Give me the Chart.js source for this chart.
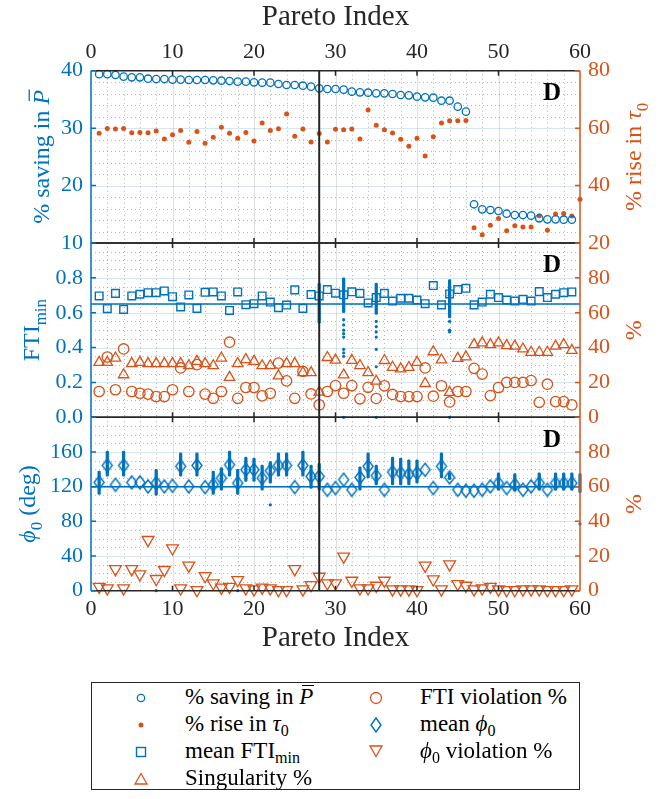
<!DOCTYPE html>
<html>
<head>
<meta charset="utf-8">
<title>Pareto front - design D</title>
<script src="https://cdn.jsdelivr.net/npm/chart.js@4.4.1/dist/chart.umd.min.js"></script>
<style>
  body { margin: 0; background: #fff; }
  #wrap { position: relative; width: 661px; height: 799px; overflow: hidden; font-family: 'Liberation Serif', 'DejaVu Serif', serif; }
  #wrap canvas { position: absolute; left: 0; top: 0; }
  #legend { position: absolute; left: 91px; top: 682px; width: 489px; height: 108px; border: 1.5px solid #262626; box-sizing: border-box; background: #fff; }
  .mk { position: absolute; }
  .lt { position: absolute; font-size: 23px; line-height: 26px; color: #000; white-space: nowrap; }
  .lt sub { font-size: 16px; line-height: 0; vertical-align: -5px; }
  .pbar { position: relative; font-style: italic; }
  .pbar::after { content: ''; position: absolute; left: 3px; right: -1px; top: 1px; border-top: 1.4px solid #000; }
</style>
</head>
<body>
<div id="wrap">
  <canvas id="p1" width="661" height="799"></canvas>
  <canvas id="p2" width="661" height="799"></canvas>
  <canvas id="p3" width="661" height="799"></canvas>
  <div id="legend">
    <svg class="mk" style="left:43px;top:9px" width="12" height="12"><circle cx="6" cy="6" r="3.7" fill="none" stroke="#0072BD" stroke-width="1.3"/></svg>
    <span class="lt" style="left:93px;top:1px">% saving in <span class="pbar">P</span></span>
    <svg class="mk" style="left:43px;top:36px" width="12" height="12"><circle cx="6" cy="6" r="2.5" fill="#D95319"/></svg>
    <span class="lt" style="left:93px;top:28px">% rise in <i>τ</i><sub>0</sub></span>
    <svg class="mk" style="left:42px;top:62px" width="14" height="14"><rect x="2.5" y="2.5" width="9" height="9" fill="none" stroke="#0072BD" stroke-width="1.4"/></svg>
    <span class="lt" style="left:93px;top:55px">mean FTI<sub>min</sub></span>
    <svg class="mk" style="left:41px;top:89px" width="16" height="14"><polygon points="8,1.5 14,12 2,12" fill="none" stroke="#D95319" stroke-width="1.3"/></svg>
    <span class="lt" style="left:93px;top:82px">Singularity %</span>

    <svg class="mk" style="left:276px;top:7px" width="16" height="16"><circle cx="8" cy="8" r="5.5" fill="none" stroke="#D95319" stroke-width="1.3"/></svg>
    <span class="lt" style="left:328px;top:1px">FTI violation %</span>
    <svg class="mk" style="left:277px;top:33px" width="14" height="18"><polygon points="7,2 12,9 7,16 2,9" fill="none" stroke="#0072BD" stroke-width="1.4"/></svg>
    <span class="lt" style="left:328px;top:28px">mean <i>ϕ</i><sub>0</sub></span>
    <svg class="mk" style="left:276px;top:61px" width="16" height="14"><polygon points="2,2 14,2 8,12.5" fill="none" stroke="#D95319" stroke-width="1.3"/></svg>
    <span class="lt" style="left:328px;top:55px"><i>ϕ</i><sub>0</sub> violation %</span>
  </div>
</div>
<script>
const BLUE = '#0072BD', ORANGE = '#D95319', DARK = '#262626';
const FONT = "'Liberation Serif', 'DejaVu Serif', serif";

// Pareto index of every design on the front
const paretoIdx = [1, 2, 3, 4, 5, 6, 7, 8, 9, 10, 11, 12, 13, 14, 15, 16, 17, 18, 19, 20,
  21, 22, 23, 24, 25, 26, 27, 28, 29, 30, 31, 32, 33, 34, 35, 36, 37, 38, 39, 40,
  41, 42, 43, 44, 45, 46, 47, 48, 49, 50, 51, 52, 53, 54, 55, 56, 57, 58, 59, 60];

// top panel
const savingP = [39.4, 39.4, 39.25, 38.96, 38.85, 38.85, 38.61, 38.55, 38.55, 38.44,
  38.44, 38.38, 38.38, 38.38, 38.32, 38.26, 38.2, 38.09, 38.09, 37.97,
  37.92, 37.92, 37.68, 37.51, 37.51, 37.39, 37.22, 36.93, 36.81, 36.81,
  36.7, 36.35, 36.23, 36.17, 36.06, 36.06, 35.94, 35.77, 35.71, 35.48,
  35.36, 35.3, 34.78, 34.78, 33.74, 32.87, 16.74, 15.86, 15.74, 15.57,
  15.1, 14.87, 14.87, 14.76, 14.3, 14.12, 14.12, 14.06, 14.06, null];
const riseTau = [58.2, 59.9, 59.7, 59.9, 58.4, 58.5, 58.4, 59.0, 56.2, 57.7,
  59.2, 55.1, 58.8, 54.7, 56.8, 60.3, 58.2, 56.5, 58.5, 55.5,
  61.8, 59.2, 59.8, 64.9, 57.2, 59.7, 55.2, 58.1, 55.2, 59.6,
  59.4, 59.7, 56.2, 66.3, 61.0, 59.4, 58.3, 56.1, 53.7, 56.5,
  50.3, 57.0, 61.8, 62.6, 62.6, 62.7, 25.3, 22.9, 26.2, 28.5,
  24.3, 26.0, 25.6, 25.6, 29.5, 24.4, 30.1, 30.3, 29.4, 35.2];

// middle panel
const meanFti = [0.696, 0.623, 0.711, 0.619, 0.696, 0.706, 0.715, 0.715, 0.725, 0.692,
  0.633, 0.702, 0.625, 0.717, 0.719, 0.696, 0.613, 0.719, 0.646, 0.652,
  0.696, 0.661, 0.629, 0.644, 0.731, 0.625, 0.704, 0.696, 0.733, 0.712,
  0.703, 0.720, 0.711, 0.656, 0.687, 0.711, 0.667, 0.683, 0.683, 0.673,
  0.652, 0.756, 0.645, 0.708, 0.733, 0.740, 0.645, 0.661, 0.706, 0.687,
  0.673, 0.667, 0.677, 0.667, 0.721, 0.687, 0.706, 0.715, 0.719, null];
const ftiViolation = [14.8, 34.6, 15.8, 39.2, 14.8, 13.8, 13.3, 11.9, 11.9, 15.8,
  28.3, 14.8, 30.2, 13.3, 10.9, 14.8, 43.1, 10.9, 17.1, 17.1,
  12.3, 13.8, 31.1, 20.9, 10.9, 26.3, 13.4, 7.1, 14.8, 18.2,
  13.8, 18.2, 10.6, 17.2, 10.8, 18.1, 13.1, 11.9, 11.9, 11.9,
  28.3, 12.1, 18.1, 8.8, 14.8, 14.8, 28.1, 24.8, 12.5, 17.1,
  20.0, 20.0, 20.0, 21.1, 8.6, 19.0, 9.0, 9.0, 7.1, null];
const singularity = [31.5, 31.5, 34.0, 24.4, 30.8, 31.5, 30.8, 30.8, 30.8, 30.8,
  30.8, 29.6, 32.1, 30.8, 29.6, 34.0, 22.9, 30.8, 33.1, 32.1,
  29.6, 29.6, 23.8, 30.8, 30.8, 25.6, 25.6, 14.5, 34.3, 32.8,
  24.3, 32.7, 29.7, 25.6, 20.7, 32.6, 28.7, 27.8, 28.6, 31.5,
  19.4, 37.6, 32.9, 14.3, 33.8, 34.7, 41.7, 42.7, 41.7, 42.7,
  41.1, 40.8, 39.2, 37.3, 37.3, 37.3, 40.8, 41.7, 38.4, null];
const ftiSpreadIdx = [28, 31, 35, 44];
const ftiSpreadLow = [0.54, 0.60, 0.59, 0.57];
const ftiSpreadHigh = [0.77, 0.80, 0.77, 0.79];
const ftiSampleIdx = [28, 31, 31, 31, 31, 31, 31, 31, 31, 31, 35, 35, 35, 35, 35, 35, 35, 44, 44, 44, 44];
const ftiSampleVal = [0, 0.56, 0.53, 0.50, 0.48, 0.46, 0.39, 0.37, 0.35, 0, 0.55, 0.52, 0.49, 0.46, 0.39, 0.29, 0, 0.55, 0.50, 0.49, 0];
const ftiOverall = 0.65;

// bottom panel
const meanPhi = [124.9, 144.5, 122.2, 144.5, 124.9, 124.9, 120.3, 124.1, 120.3, 121.0,
  143.4, 120.3, 144.5, 119.5, 122.2, 129.9, 145.3, 124.1, 139.5, 139.5,
  129.9, 138.4, 144.5, 144.5, 119.5, 144.5, 131.8, 131.8, 116.4, 118.4,
  128.0, 116.4, 130.7, 143.4, 132.6, 116.4, 136.8, 135.7, 134.5, 135.7,
  139.5, 118.4, 143.4, 130.7, 116.4, 115.3, 115.3, 116.4, 120.3, 124.1,
  118.4, 122.2, 116.4, 120.3, 124.1, 116.4, 124.1, 124.1, 124.1, null];
const phiViolation = [2.3, 1.4, 12.5, 1.4, 12.5, 9.5, 29.3, 6.8, 12.0, 24.5,
  1.4, 14.5, 0.4, 8.5, 4.3, 1.8, 2.3, 6.2, 1.4, 0.8,
  1.8, 1.4, 0.4, 0.4, 12.5, 0.8, 3.3, 8.1, 4.3, 4.3,
  19.7, 5.8, 1.4, 1.4, 2.9, 5.8, 0.8, 0.8, 0.8, 0.4,
  14.5, 6.6, 0.8, 15.2, 3.9, 2.9, 0.8, 1.4, 2.3, 0.8,
  0.4, 0.4, 0.8, 0.8, 0.8, 0.4, 0.4, 0.4, 0.8, null];
const phiSpreadIdx = [1, 2, 4, 8, 11, 13, 15, 16, 17, 18, 19, 20, 21, 22, 23, 24, 26, 27, 28,
  33, 34, 35, 37, 38, 39, 40, 43, 44, 50, 52, 55, 57, 58, 59, 60];
const phiSpreadLow = [111, 132, 132, 110, 132, 132, 111, 116, 132, 111, 126, 126, 116, 124, 132, 132, 132, 118, 116,
  116, 130, 122, 122, 122, 122, 124, 130, 128, 116, 115, 116, 116, 116, 116, 113];
const phiSpreadHigh = [138, 161, 161, 140, 159, 159, 138, 142, 161, 140, 154, 153, 145, 149, 159, 159, 161, 145, 147,
  143, 159, 145, 154, 153, 151, 151, 159, 136, 136, 135, 136, 136, 136, 136, 135];
const phiSampleIdx = [8, 18, 22, 60];
const phiSampleVal = [0, 0, 99, 77];
const phiOverall = 120;

const chosenIdx = 28;

// ---- helpers ----
const pts = ys => paretoIdx.map((x, i) => ({ x, y: ys[i] })).filter(p => p.y !== null);
const pairs = (xs, ys) => xs.map((x, i) => ({ x, y: ys[i] }));
const ranges = (xs, lo, hi) => xs.map((x, i) => ({ x, y: [lo[i], hi[i]] }));

function diamondImg(w, h, color, lw) {
  const c = document.createElement('canvas');
  c.width = w + 2 * lw + 2; c.height = h + 2 * lw + 2;
  const g = c.getContext('2d');
  const cx = c.width / 2, cy = c.height / 2;
  g.strokeStyle = color; g.lineWidth = lw;
  g.beginPath();
  g.moveTo(cx, cy - h / 2); g.lineTo(cx + w / 2, cy); g.lineTo(cx, cy + h / 2); g.lineTo(cx - w / 2, cy);
  g.closePath(); g.stroke();
  return c;
}

function markers(data, axis, style) {
  return Object.assign({ type: 'scatter', data, yAxisID: axis, showLine: false, clip: false,
    pointBackgroundColor: 'rgba(0,0,0,0)', pointBorderWidth: 1.3 }, style);
}
function vline(axis, lo, hi) {
  return { type: 'scatter', data: [{ x: chosenIdx, y: lo }, { x: chosenIdx, y: hi }], yAxisID: axis,
    showLine: true, borderColor: DARK, borderWidth: 2, pointRadius: 0, clip: false };
}
function hline(axis, v) {
  return { type: 'scatter', data: [{ x: 0, y: v }, { x: 60, y: v }], yAxisID: axis,
    showLine: true, borderColor: BLUE, borderWidth: 1.5, pointRadius: 0, clip: false };
}
function spread(data) {
  return { type: 'bar', data, yAxisID: 'yl', backgroundColor: BLUE, barThickness: 2.6,
    borderRadius: 1.3, borderSkipped: false, grouped: false, clip: false };
}

// draw a rotated label with italic / subscript / overbar parts
function drawRich(ctx, parts, cx, cy, size, color) {
  ctx.save();
  ctx.translate(cx, cy);
  ctx.rotate(-Math.PI / 2);
  ctx.fillStyle = color; ctx.strokeStyle = color;
  ctx.textAlign = 'left'; ctx.textBaseline = 'alphabetic';
  const fontOf = p => (p.italic ? 'italic ' : '') + Math.round(p.sub ? size * 0.72 : size) + 'px ' + FONT;
  const widths = parts.map(p => { ctx.font = fontOf(p); return ctx.measureText(p.t).width; });
  let x = -widths.reduce((s, w) => s + w, 0) / 2;
  const base = size * 0.33;
  parts.forEach((p, i) => {
    ctx.font = fontOf(p);
    ctx.fillText(p.t, x, base + (p.sub ? size * 0.28 : 0));
    if (p.bar) {
      ctx.lineWidth = 1.3;
      ctx.beginPath();
      ctx.moveTo(x + size * 0.15, base - size * 0.82);
      ctx.lineTo(x + widths[i] + size * 0.02, base - size * 0.82);
      ctx.stroke();
    }
    x += widths[i];
  });
  ctx.restore();
}

const panelMeta = {
  p1: { minor: 2, left: [{ t: '% saving in ' }, { t: 'P', italic: true, bar: true }], leftX: 41,
        right: [{ t: '% rise in ' }, { t: 'τ', italic: true }, { t: '0', sub: true }] },
  p2: { minor: 0.05, left: [{ t: 'FTI' }, { t: 'min', sub: true }], leftX: 31, right: [{ t: '%' }] },
  p3: { minor: 10, left: [{ t: 'ϕ', italic: true }, { t: '0', sub: true }, { t: ' (deg)' }], leftX: 27, right: [{ t: '%' }] }
};

const panelDecor = {
  id: 'panelDecor',
  beforeDatasetsDraw(chart) {
    const m = panelMeta[chart.canvas.id];
    const { ctx, chartArea: a } = chart;
    const x = chart.scales.x, yl = chart.scales.yl;
    const vLine = px => { ctx.beginPath(); ctx.moveTo(px, a.top); ctx.lineTo(px, a.bottom); ctx.stroke(); };
    const hLine = py => { ctx.beginPath(); ctx.moveTo(a.left, py); ctx.lineTo(a.right, py); ctx.stroke(); };
    ctx.save();
    ctx.lineWidth = 1;
    ctx.setLineDash([1, 3]);
    ctx.strokeStyle = 'rgba(90,90,90,0.45)';
    for (let k = 1; k < 30; k++) {
      if (k % 5 === 0) continue;
      vLine(Math.round(x.getPixelForValue(k * 2)) + 0.5);
    }
    ctx.strokeStyle = 'rgba(0,114,189,0.42)';
    const majorStep = yl.ticks[1].value - yl.ticks[0].value;
    const per = Math.round(majorStep / m.minor);
    const nMinor = Math.round((yl.max - yl.min) / m.minor);
    for (let k = 1; k < nMinor; k++) {
      if (k % per === 0) continue;
      hLine(Math.round(yl.getPixelForValue(yl.min + k * m.minor)) + 0.5);
    }
    ctx.setLineDash([]);
    ctx.strokeStyle = 'rgba(0,0,0,0.12)';
    for (let v = 10; v < 60; v += 10) vLine(Math.round(x.getPixelForValue(v)) + 0.5);
    ctx.strokeStyle = 'rgba(0,114,189,0.16)';
    yl.ticks.forEach(t => { if (t.value > yl.min && t.value < yl.max) hLine(Math.round(yl.getPixelForValue(t.value)) + 0.5); });
    ctx.restore();
  },
  afterDraw(chart) {
    const m = panelMeta[chart.canvas.id];
    const { ctx, chartArea: a } = chart;
    const x = chart.scales.x, yl = chart.scales.yl, yr = chart.scales.yr;
    ctx.save();
    ctx.lineWidth = 1.5;
    ctx.strokeStyle = DARK;
    ctx.beginPath();
    for (let v = 10; v < 60; v += 10) {
      const px = x.getPixelForValue(v);
      ctx.moveTo(px, a.top); ctx.lineTo(px, a.top + 5);
      ctx.moveTo(px, a.bottom); ctx.lineTo(px, a.bottom - 5);
    }
    ctx.moveTo(a.left, a.top); ctx.lineTo(a.right, a.top);
    ctx.moveTo(a.left, a.bottom); ctx.lineTo(a.right, a.bottom);
    ctx.stroke();
    ctx.strokeStyle = BLUE;
    ctx.beginPath();
    ctx.moveTo(a.left, a.top); ctx.lineTo(a.left, a.bottom);
    yl.ticks.forEach(t => { const py = yl.getPixelForValue(t.value); ctx.moveTo(a.left, py); ctx.lineTo(a.left + 5, py); });
    ctx.stroke();
    ctx.strokeStyle = ORANGE;
    ctx.beginPath();
    ctx.moveTo(a.right, a.top); ctx.lineTo(a.right, a.bottom);
    yr.ticks.forEach(t => { const py = yr.getPixelForValue(t.value); ctx.moveTo(a.right, py); ctx.lineTo(a.right - 5, py); });
    ctx.stroke();
    ctx.fillStyle = '#000';
    ctx.font = 'bold 25px ' + FONT;
    ctx.textAlign = 'center'; ctx.textBaseline = 'middle';
    ctx.fillText('D', a.right - 28, a.top + 23);
    const cy = (a.top + a.bottom) / 2;
    drawRich(ctx, m.left, m.leftX, cy, 24, BLUE);
    drawRich(ctx, m.right, 633, cy, 24, ORANGE);
    ctx.restore();
  }
};

function xScale(position, height) {
  return {
    type: 'linear', min: 0, max: 60, offset: false, position: position || 'bottom', display: !!position,
    ticks: { stepSize: 10, color: DARK, font: { family: FONT, size: 22 }, padding: 5, maxRotation: 0 },
    grid: { display: false, drawTicks: false }, border: { display: false },
    title: { display: true, text: 'Pareto Index', color: DARK, font: { family: FONT, size: 29 }, padding: { top: 0, bottom: 1 } },
    afterFit: s => { s.height = height; }
  };
}
function yScale(side, min, max, step, fmt) {
  return {
    type: 'linear', position: side, min, max,
    ticks: { stepSize: step, color: side === 'left' ? BLUE : ORANGE, font: { family: FONT, size: 22 },
             padding: 8, callback: fmt, autoSkip: false },
    grid: { display: false, drawTicks: false }, border: { display: false },
    afterFit: s => { s.width = side === 'left' ? 91 : 81; }
  };
}

function makePanel(id, padTop, padBottom, scales, datasets) {
  return new Chart(document.getElementById(id), {
    type: 'scatter',
    data: { datasets },
    options: {
      responsive: false, animation: false, devicePixelRatio: 1,
      layout: { padding: { top: padTop, bottom: padBottom, left: 0, right: 0 } },
      plugins: { legend: { display: false }, tooltip: { enabled: false } },
      scales
    },
    plugins: [panelDecor]
  });
}

const blank = lim => v => (v >= lim - 1e-9 ? '' : v);

makePanel('p1', 0, 556, {
  x: xScale('top', 70.7),
  yl: yScale('left', 10, 40, 10, v => v),
  yr: yScale('right', 20, 80, 20, v => v)
}, [
  vline('yl', 10, 40),
  markers(pts(savingP), 'yl', { pointStyle: 'circle', pointRadius: 3.7, pointBorderColor: BLUE }),
  markers(pts(riseTau), 'yr', { pointStyle: 'circle', pointRadius: 2.5, pointBorderWidth: 0, pointBackgroundColor: ORANGE })
]);

makePanel('p2', 243, 381.7, {
  x: xScale(null, 0),
  yl: yScale('left', 0, 1, 0.2, v => (v >= 0.999 ? '' : v.toFixed(1))),
  yr: yScale('right', 0, 100, 20, blank(100))
}, [
  vline('yl', 0, 1),
  hline('yl', ftiOverall),
  markers(pts(meanFti), 'yl', { pointStyle: 'rect', pointRadius: 5.4, pointBorderWidth: 1.4, pointBorderColor: BLUE }),
  markers(pairs(ftiSampleIdx, ftiSampleVal), 'yl', { pointStyle: 'circle', pointRadius: 1.6, pointBorderWidth: 0, pointBackgroundColor: BLUE }),
  spread(ranges(ftiSpreadIdx, ftiSpreadLow, ftiSpreadHigh)),
  markers(pts(ftiViolation), 'yr', { pointStyle: 'circle', pointRadius: 5.2, pointBorderColor: ORANGE }),
  markers(pts(singularity), 'yr', { pointStyle: 'triangle', pointRadius: 6, pointBorderColor: ORANGE })
]);

makePanel('p3', 417.3, 142.3, {
  x: xScale('bottom', 66),
  yl: yScale('left', 0, 200, 40, blank(200)),
  yr: yScale('right', 0, 100, 20, blank(100))
}, [
  vline('yl', 0, 200),
  hline('yl', phiOverall),
  markers(pts(meanPhi), 'yl', { pointStyle: diamondImg(10, 13, BLUE, 1.4), pointRadius: 6 }),
  markers(pairs(phiSampleIdx, phiSampleVal), 'yl', { pointStyle: 'circle', pointRadius: 1.6, pointBorderWidth: 0, pointBackgroundColor: BLUE }),
  spread(ranges(phiSpreadIdx, phiSpreadLow, phiSpreadHigh)),
  markers(pts(phiViolation), 'yr', { pointStyle: 'triangle', pointRotation: 180, pointRadius: 6.8, pointBorderColor: ORANGE })
]);
</script>
</body>
</html>
